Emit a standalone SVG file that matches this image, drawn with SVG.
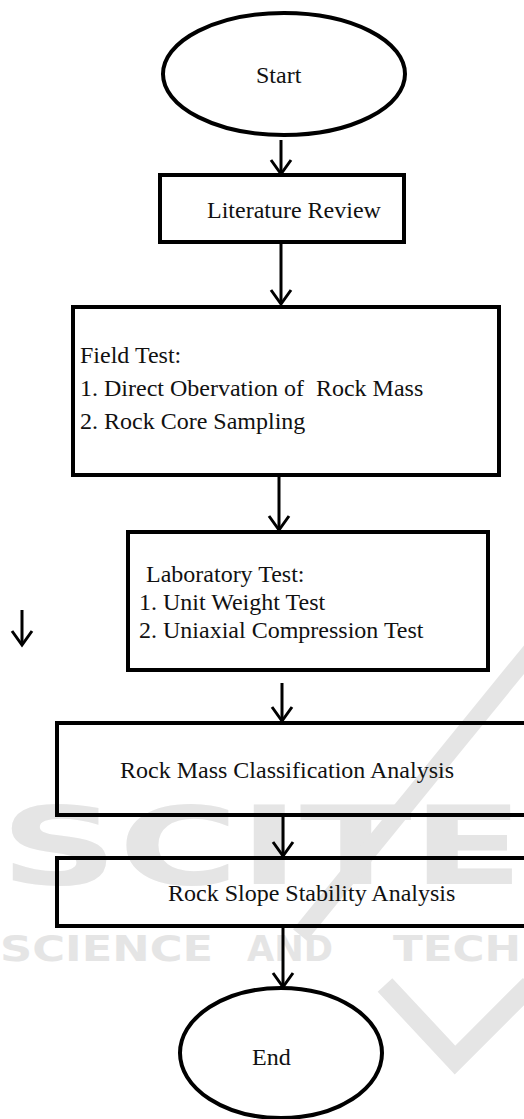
<svg xmlns="http://www.w3.org/2000/svg" width="524" height="1119" viewBox="0 0 524 1119">
  <style>
    .box { fill: none; stroke: #000; stroke-width: 4; }
    .lbl { font-family: "Liberation Serif", "Times New Roman", serif; font-size: 24px; fill: #111; }
    .conn { fill: none; stroke: #000; stroke-width: 3; }
    .wm { fill: #e5e5e5; font-family: "DejaVu Sans", "Liberation Sans", sans-serif; font-weight: bold; }
  </style>
  <defs>
    <marker id="head" markerUnits="userSpaceOnUse" markerWidth="40" markerHeight="40" refX="0" refY="0" orient="auto" overflow="visible">
      <path d="M-14,-10 L0,0 L-14,10" fill="none" stroke="#000" stroke-width="3" stroke-linejoin="miter"/>
    </marker>
  </defs>
  <rect width="524" height="1119" fill="#fff"/>

  <!-- publisher watermark -->
  <g id="watermark">
    <text class="wm" x="0" y="884" font-size="108" textLength="524" lengthAdjust="spacingAndGlyphs">SCITE</text>
    <line x1="540" y1="640" x2="300" y2="935" stroke="#e5e5e5" stroke-width="18"/>
    <text class="wm" x="0" y="961" font-size="36" textLength="213" lengthAdjust="spacingAndGlyphs">SCIENCE</text>
    <text class="wm" x="247" y="961" font-size="36" textLength="86" lengthAdjust="spacingAndGlyphs">AND</text>
    <text class="wm" x="393" y="961" font-size="36" textLength="128" lengthAdjust="spacingAndGlyphs">TECH</text>
    <path d="M385,985 L455,1060 L530,985" fill="none" stroke="#e5e5e5" stroke-width="20"/>
  </g>

  <g id="connectors">
    <line class="conn" x1="281" y1="140" x2="281" y2="174" marker-end="url(#head)"/>
    <line class="conn" x1="281" y1="244" x2="281" y2="304" marker-end="url(#head)"/>
    <line class="conn" x1="279" y1="477" x2="279" y2="530" marker-end="url(#head)"/>
    <line class="conn" x1="282" y1="683" x2="282" y2="721" marker-end="url(#head)"/>
    <line class="conn" x1="283" y1="817" x2="283" y2="856" marker-end="url(#head)"/>
    <line class="conn" x1="283" y1="927" x2="283" y2="987" marker-end="url(#head)"/>
    <line class="conn" x1="22" y1="610" x2="22" y2="645" marker-end="url(#head)"/>
  </g>

  <g id="start">
    <ellipse class="box" cx="284" cy="74" rx="121" ry="61"/>
    <text class="lbl" x="256" y="83">Start</text>
  </g>

  <g id="literature-review">
    <rect class="box" x="160" y="175" width="244" height="67"/>
    <text class="lbl" x="207" y="218">Literature Review</text>
  </g>

  <g id="field-test">
    <rect class="box" x="73" y="307" width="426" height="168"/>
    <text class="lbl" x="80" y="363">Field Test:</text>
    <text class="lbl" x="80" y="396" xml:space="preserve">1. Direct Obervation of  Rock Mass</text>
    <text class="lbl" x="80" y="429">2. Rock Core Sampling</text>
  </g>

  <g id="laboratory-test">
    <rect class="box" x="128" y="532" width="360" height="138"/>
    <text class="lbl" x="146" y="582">Laboratory Test:</text>
    <text class="lbl" x="139" y="610">1. Unit Weight Test</text>
    <text class="lbl" x="139" y="638">2. Uniaxial Compression Test</text>
  </g>

  <g id="rock-mass-classification">
    <rect class="box" x="57" y="723" width="480" height="92"/>
    <text class="lbl" x="120" y="778">Rock Mass Classification Analysis</text>
  </g>

  <g id="rock-slope-stability">
    <rect class="box" x="57" y="858" width="480" height="68"/>
    <text class="lbl" x="168" y="901">Rock Slope Stability Analysis</text>
  </g>

  <g id="end">
    <ellipse class="box" cx="281" cy="1053" rx="101" ry="65"/>
    <text class="lbl" x="252" y="1065">End</text>
  </g>
</svg>
